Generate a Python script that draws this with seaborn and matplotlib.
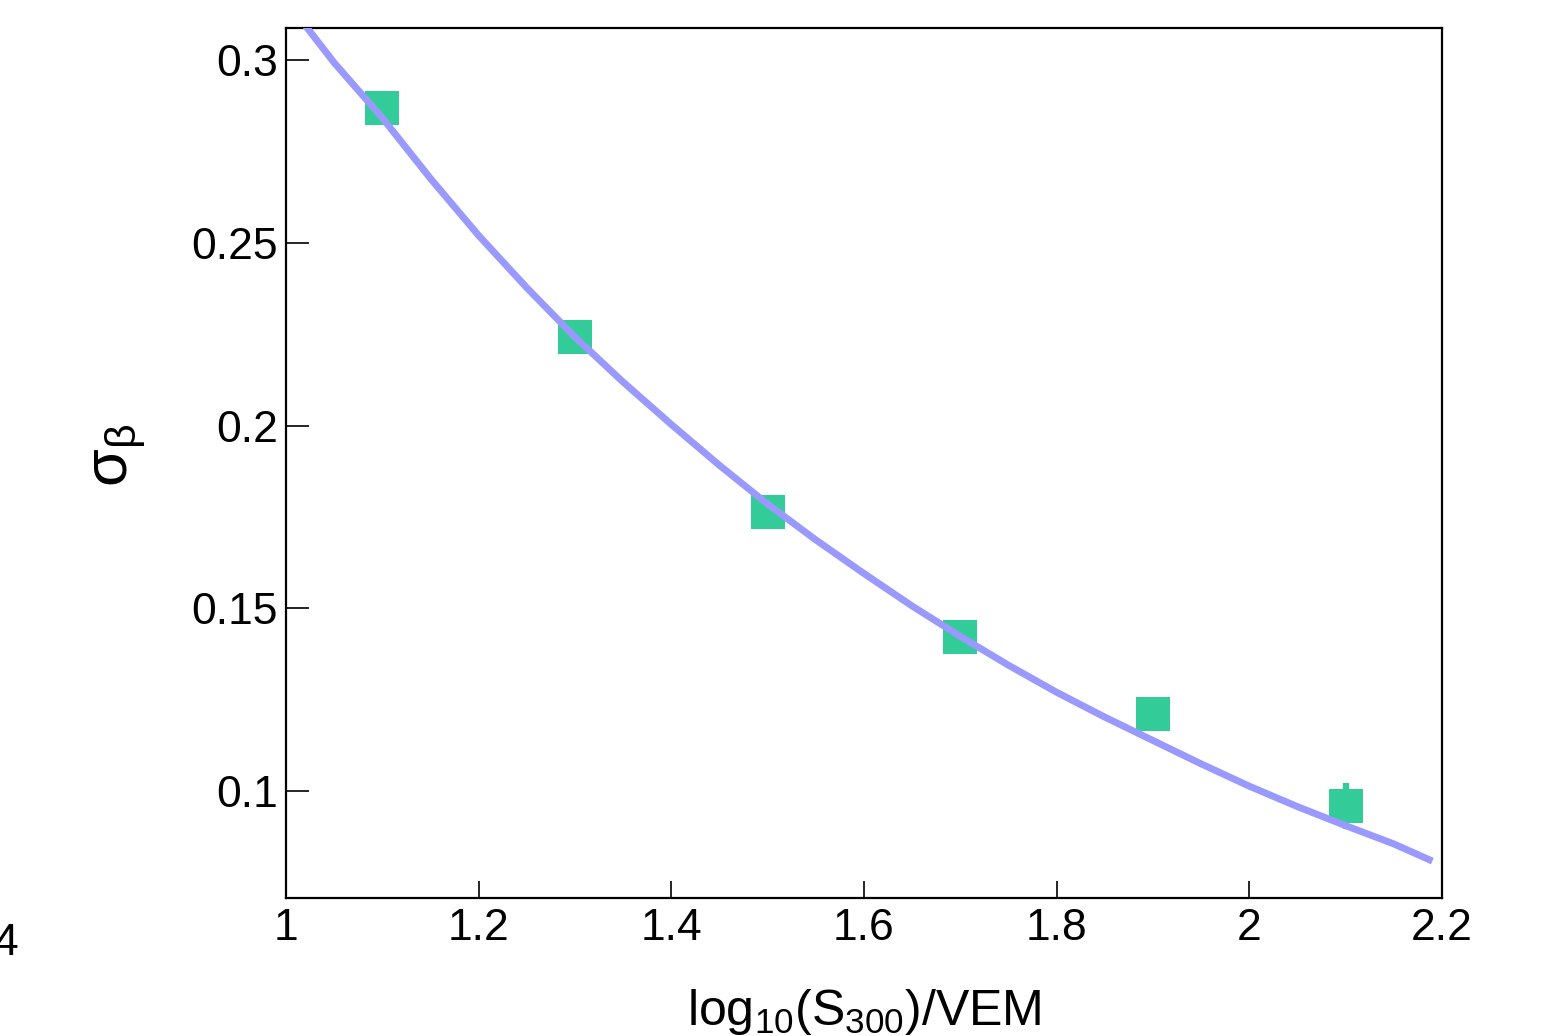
import matplotlib
matplotlib.use("Agg")
import matplotlib.pyplot as plt
import seaborn as sns
import pandas as pd

# data
x_points = [1.1, 1.3, 1.5, 1.7, 1.9, 2.1]
y_points = [0.2869, 0.2242, 0.1763, 0.1421, 0.1211, 0.0959]
y_errors = [0.002, 0.002, 0.002, 0.002, 0.003, 0.0062]

# fitted curve
fit_x = [1.02, 1.05, 1.10, 1.15, 1.20, 1.25, 1.30, 1.35, 1.40, 1.45, 1.50,
         1.55, 1.60, 1.65, 1.70, 1.75, 1.80, 1.85, 1.90, 1.95, 2.00,
         2.05, 2.10, 2.15, 2.19]
fit_y = [0.3095, 0.2993, 0.2842, 0.2676, 0.2520, 0.2377, 0.2242, 0.2119,
         0.2003, 0.1891, 0.1785, 0.1687, 0.1595, 0.1506, 0.1423, 0.1344,
         0.1270, 0.1202, 0.1138, 0.1074, 0.1013, 0.0957, 0.0905, 0.0855,
         0.0808]

x_ticks = [1.0, 1.2, 1.4, 1.6, 1.8, 2.0, 2.2]
x_tick_labels = ["1", "1.2", "1.4", "1.6", "1.8", "2", "2.2"]
y_ticks = [0.10, 0.15, 0.20, 0.25, 0.30]
y_tick_labels = ["0.1", "0.15", "0.2", "0.25", "0.3"]

sns.set_style("ticks")
plt.rcParams["font.family"] = ["Liberation Sans", "DejaVu Sans"]
plt.rcParams["mathtext.default"] = "regular"
plt.rcParams["text.color"] = "black"
plt.rcParams["axes.labelcolor"] = "black"
plt.rcParams["xtick.color"] = "black"
plt.rcParams["ytick.color"] = "black"

points = pd.DataFrame({"x": x_points, "y": y_points})
fit = pd.DataFrame({"x": fit_x, "y": fit_y})

fig = plt.figure(figsize=(15.45, 10.36), dpi=100)
ax = fig.add_axes([286 / 1545, 1 - 898 / 1036, (1442 - 286) / 1545, (898 - 28) / 1036])

line_color = "#9999ff"
marker_color = "#33cc99"

ax.errorbar(x_points, y_points, yerr=y_errors, fmt="none", ecolor=marker_color,
            elinewidth=4.5, capsize=0, zorder=2)
sns.scatterplot(data=points, x="x", y="y", marker="s", s=25 ** 2, color=marker_color,
                linewidth=0, ax=ax, zorder=3)
sns.lineplot(data=fit, x="x", y="y", color=line_color, linewidth=5, ax=ax, zorder=4,
             solid_capstyle="butt", solid_joinstyle="round")

ax.set_xlim(1.0, 2.2)
ax.set_ylim(0.0707, 0.3088)
ax.set_xticks(x_ticks)
ax.set_xticklabels(x_tick_labels)
ax.set_yticks(y_ticks)
ax.set_yticklabels(y_tick_labels)
ax.minorticks_off()

ax.tick_params(axis="x", direction="in", length=12.5, width=1.2, labelsize=32, pad=7,
               colors="black")
ax.tick_params(axis="y", direction="in", length=16.5, width=1.2, labelsize=32, pad=6,
               colors="black")
for sp in ax.spines.values():
    sp.set_visible(True)
    sp.set_linewidth(1.6)
    sp.set_color("black")

ax.set_xlabel(r"log$_{10}$(S$_{300}$)/VEM", fontsize=36, color="black")
ax.xaxis.label.set_va("baseline")
ax.xaxis.set_label_coords(0.5, -0.146)
ax.set_ylabel(r"$\sigma_{\beta}$", fontsize=44, rotation=90, color="black")
ax.yaxis.label.set_va("center")
ax.yaxis.set_label_coords(-0.144, 0.509)

fig.text(-6 / 1545, 1 - 955 / 1036, "4", fontsize=32, ha="left", va="baseline")

fig.savefig("out.png", dpi=100)
